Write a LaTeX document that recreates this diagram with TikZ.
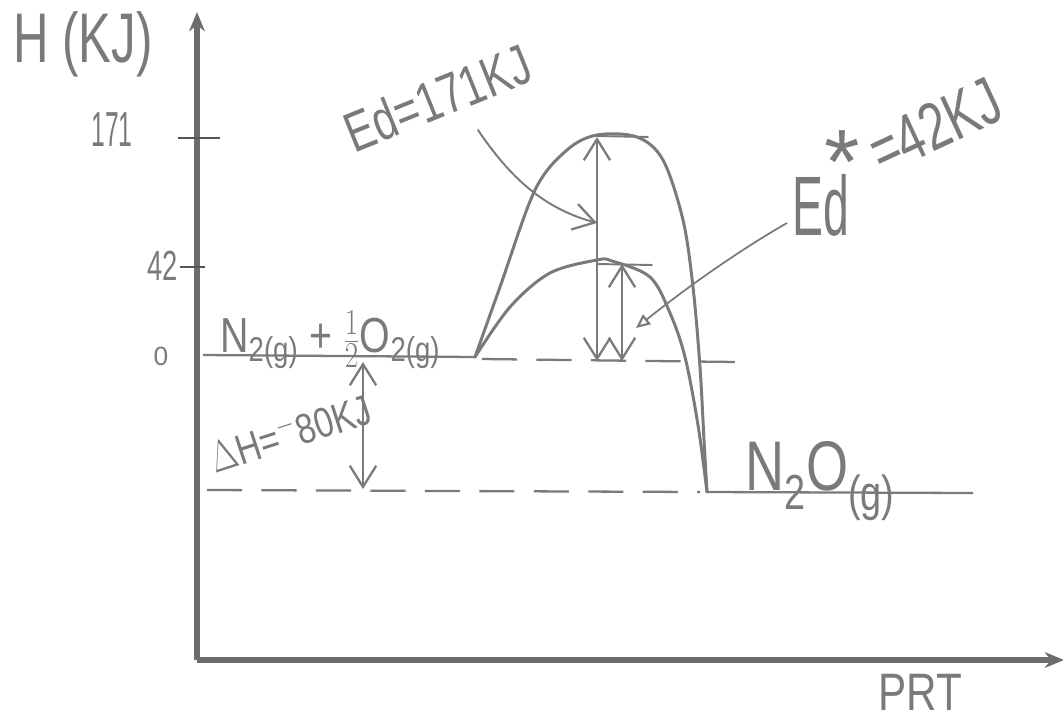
\documentclass[tikz,border=0pt]{standalone}
\usepackage{fontspec}
\setmainfont{Liberation Sans}
\usetikzlibrary{arrows.meta}
\definecolor{ink}{HTML}{7A7A7A}
\definecolor{axisc}{HTML}{6C6C6C}
\definecolor{tickc}{HTML}{555555}
\begin{document}
\begin{tikzpicture}[x=0.02cm,y=-0.02cm,
  hand/.style={text=ink, inner sep=0pt, transform shape},
  curve/.style={draw=ink, line width=1.7pt, line cap=round, line join=round},
  thinline/.style={draw=ink, line width=1.1pt, line cap=round},
  levelline/.style={draw=ink, line width=1.3pt},
  dashlevel/.style={draw=ink, line width=1.3pt, dash pattern=on 20pt off 11pt},
  barbtip/.style={-{Straight Barb[length=12pt,width=15pt,line width=1.3pt]}},
  dbarb/.style={{Straight Barb[length=12pt,width=15pt,line width=1.3pt]}-{Straight Barb[length=12pt,width=15pt,line width=1.3pt]}},
  axisline/.style={draw=axisc, line width=3.4pt}
]
\useasboundingbox (0,0) rectangle (1063,721);
% axes
\coordinate (O) at (197,660);
\coordinate (Ytop) at (197,12);
\coordinate (Xend) at (1064,660);
\draw[axisline, -{Stealth[length=11pt,width=9pt]}] (O) -- (Ytop);
\draw[axisline, -{Stealth[length=11pt,width=9pt]}] (O) -- (Xend);
% ticks
\draw[tickc, line width=1.4pt] (178,138) -- (220,138);
\draw[tickc, line width=1.4pt] (180,267) -- (205,267);
% axis labels
\node[hand, font=\fontsize{40}{48}\selectfont, xscale=.7] (hlab) at (83,44) {H (KJ)};
\node[hand, font=\fontsize{28}{30}\selectfont, xscale=.5] (l171) at (112,130) {171};
\node[hand, font=\fontsize{24}{28}\selectfont, xscale=.65] (l42) at (163,266) {42};
\node[hand, font=\fontsize{15}{18}\selectfont] (l0) at (161,356) {0};
\node[hand, font=\fontsize{30}{34}\selectfont, xscale=.8] (prt) at (920,692) {PRT};
% levels
\coordinate (R0) at (203,355);
\coordinate (R1) at (475,357);
\draw[levelline] (R0) -- (R1);
\draw[dashlevel] (482,359) -- (737,362);
\draw[dashlevel] (207,490) -- (700,492);
\coordinate (P0) at (707,492);
\coordinate (P1) at (973,493);
\draw[levelline] (P0) -- (P1);
% curves
\draw[curve] plot[smooth, tension=0.55] coordinates {(475,357) (500,287) (535,190) (567,150) (597,135) (637,137) (663,160) (683,220) (693,287) (700,367) (704,440) (707,492)};
\draw[curve] plot[smooth, tension=0.55] coordinates {(475,357) (510,307) (550,273) (597,260) (612,261) (650,277) (670,313) (685,357) (698,425) (707,492)};
% plateau strokes
\draw[thinline] (597,136) -- (648,137);
\draw[thinline] (597,264) -- (652,265);
% arrows
\coordinate (bigTop) at (597,137);
\coordinate (bigBot) at (597,361);
\draw[thinline, dbarb] (bigBot) -- (bigTop);
\coordinate (smTop) at (622,264);
\coordinate (smBot) at (622,361);
\draw[thinline, dbarb] (smBot) -- (smTop);
\coordinate (dhTop) at (363,362);
\coordinate (dhBot) at (363,489);
\draw[thinline, dbarb] (dhBot) -- (dhTop);
% reaction labels
\node[hand, font=\fontsize{28}{30}\selectfont, xscale=.8, anchor=base west] (react) at (220,352) {N\textsubscript{2(g)} + $\frac{1}{2}$O\textsubscript{2(g)}};
\node[hand, font=\fontsize{40}{44}\selectfont, xscale=.77, anchor=base west] (prod) at (745,490) {N\textsubscript{2}O\textsubscript{(g)}};
\node[hand, font=\fontsize{24}{28}\selectfont, rotate=18, xscale=.8] (dh) at (290,432) {$\Delta$H=$^{-}$80KJ};
% Ed labels
\node[hand, font=\fontsize{32}{36}\selectfont, rotate=22, xscale=.75] (ed) at (438,98) {Ed=171KJ};
\coordinate (edStart) at (478,130);
\coordinate (edTip) at (597,223);
\draw[thinline, barbtip] (edStart) .. controls (515,185) and (550,210) .. (edTip);
\node[hand, font=\fontsize{48}{52}\selectfont, xscale=.55] (eds) at (821,205) {Ed};
\node[hand, font=\fontsize{52}{56}\selectfont, anchor=base] (star) at (842,193) {*};
\node[hand, font=\fontsize{38}{42}\selectfont, rotate=25, xscale=.72] (e42) at (935,126) {=42KJ};
\coordinate (ptStart) at (787,223);
\coordinate (ptEnd) at (636,328);
\draw[draw=ink, line width=1pt, -{Triangle[open,length=8pt,width=7pt,line width=1.2pt]}] (ptStart) .. controls (740,250) and (690,285) .. (ptEnd);
\end{tikzpicture}
\end{document}
